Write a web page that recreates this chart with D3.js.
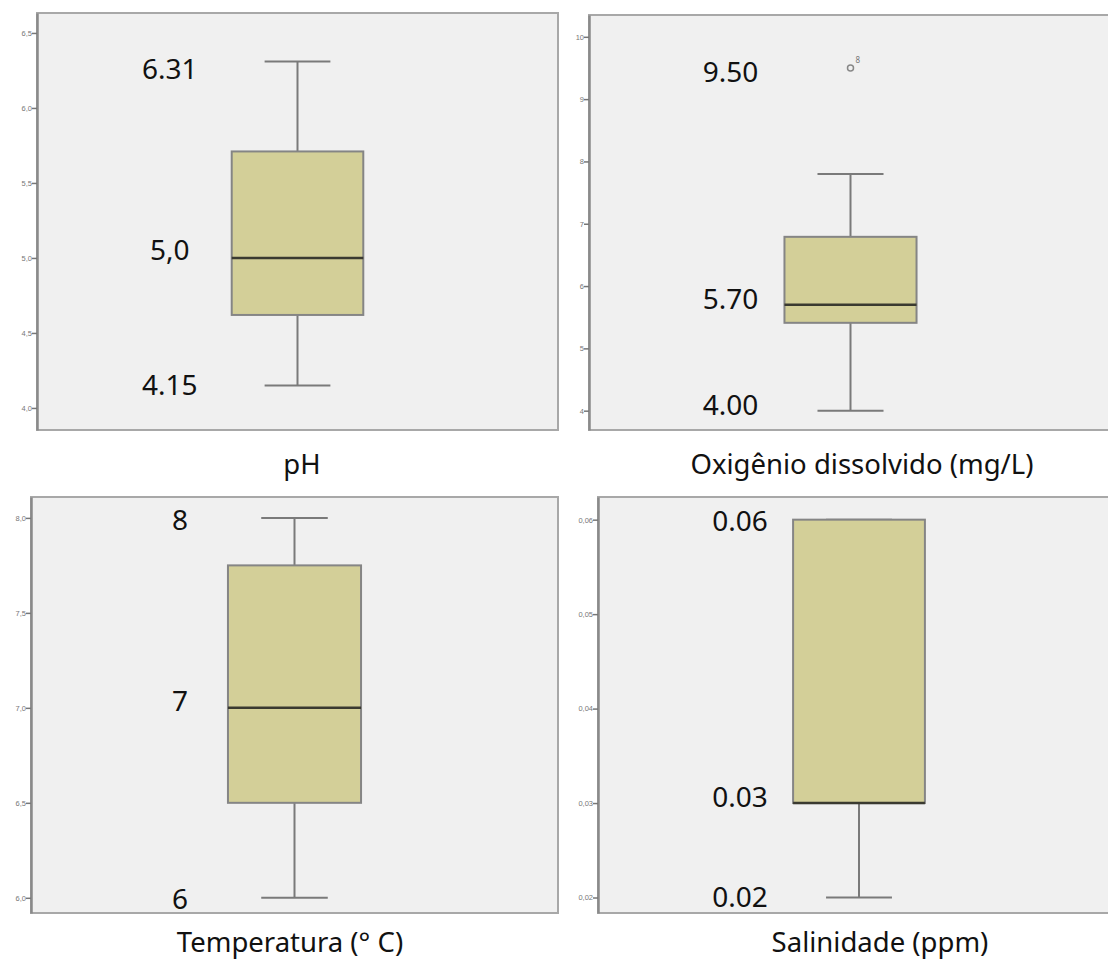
<!DOCTYPE html>
<html>
<head>
<meta charset="utf-8">
<script src="https://cdn.jsdelivr.net/npm/d3@7"></script>
<style>
  body { margin: 0; background: #fff; }
  svg { display: block; font-family: "Noto Sans", "Open Sans", sans-serif; }
  .tick text { fill: #777; font-size: 7.5px; }
  .tick line { stroke: #777; }
</style>
</head>
<body>
<div id="chart"></div>
<script>
// variables shown in the four box plots
var categories = ["pH", "Oxigênio dissolvido (mg/L)", "Temperatura (° C)", "Salinidade (ppm)"];

// five-number summaries
var whiskerLow  = [4.15, 4.0, 6.0, 0.02];
var quartile1   = [4.62, 5.41, 6.5, 0.03];
var medians     = [5.0, 5.7, 7.0, 0.03];
var quartile3   = [5.71, 6.79, 7.75, 0.06];
var whiskerHigh = [6.31, 7.8, 8.0, 0.06];

// outliers (value and case number)
var outlierValues = [[], [9.5], [], []];
var outlierIds    = [[], ["8"], [], []];

// y axis domains and ticks
var yDomains = [[3.853, 6.633], [3.69, 10.35], [5.92, 8.11], [0.01836, 0.0624]];
var tickValues = [
  [4.0, 4.5, 5.0, 5.5, 6.0, 6.5],
  [4, 5, 6, 7, 8, 9, 10],
  [6.0, 6.5, 7.0, 7.5, 8.0],
  [0.02, 0.03, 0.04, 0.05, 0.06]
];
var tickFormats = [".1f", "d", ".1f", ".2f"];

// big annotation labels written next to the boxes
var noteTexts  = [["6.31", "5,0", "4.15"], ["9.50", "5.70", "4.00"], ["8", "7", "6"], ["0.06", "0.03", "0.02"]];
var noteValues = [[6.31, 5.0, 4.15], [9.5, 5.7, 4.0], [8, 7, 6], [0.06, 0.03, 0.02]];

// panel frames on the page (noteDy nudges each label like in the original figure)
var panels = [
  {x0: 37,  x1: 558,  y0: 13,  y1: 430, titleX: 302, titleY: 474, noteDx: -62, noteDy: [8, -8, 0]},
  {x0: 589, x1: 1112, y0: 15,  y1: 430, titleX: 862, titleY: 474, noteDx: -54, noteDy: [4, -6, -5]},
  {x0: 31,  x1: 558,  y0: 497, y1: 913, titleX: 290, titleY: 952, noteDx: -48, noteDy: [2, -7, 1]},
  {x0: 598, x1: 1120, y0: 497, y1: 913, titleX: 880, titleY: 952, noteDx: -53, noteDy: [2, -6, 0]}
];

var svg = d3.select("#chart").append("svg")
  .attr("width", 1108)
  .attr("height", 960);

panels.forEach(function(p, i) {

  var g = svg.append("g");

  // frame of the plot area
  g.append("rect")
    .attr("x", p.x0)
    .attr("y", p.y0)
    .attr("width", p.x1 - p.x0)
    .attr("height", p.y1 - p.y0)
    .attr("fill", "#f0f0f0")
    .attr("stroke", "#a8a8a8")
    .attr("stroke-width", 2);

  var y = d3.scaleLinear()
    .domain(yDomains[i])
    .range([p.y1, p.y0]);

  // one band for the single box
  var x = d3.scaleBand()
    .domain([categories[i]])
    .range([p.x0, p.x1])
    .paddingInner(0)
    .paddingOuter(1.48);

  var fmt = d3.format(tickFormats[i]);
  var yAxis = d3.axisLeft(y)
    .tickValues(tickValues[i])
    .tickSize(5)
    .tickSizeOuter(0)
    .tickFormat(function(d) { return fmt(d).replace(".", ","); });

  var ax = g.append("g")
    .attr("transform", "translate(" + p.x0 + ",0)")
    .call(yAxis);
  ax.select(".domain").attr("stroke", "#8a8a8a").attr("stroke-width", 2.5);
  ax.selectAll(".tick line").attr("stroke-width", 1.5);
  ax.selectAll(".tick text").attr("x", -5);

  var left = x(categories[i]),
    bw = x.bandwidth(),
    cx = left + bw / 2;

  // whiskers
  g.append("line")
    .attr("x1", cx).attr("x2", cx)
    .attr("y1", y(whiskerHigh[i])).attr("y2", y(quartile3[i]))
    .attr("stroke", "#7a7a7a").attr("stroke-width", 2);
  g.append("line")
    .attr("x1", cx).attr("x2", cx)
    .attr("y1", y(quartile1[i])).attr("y2", y(whiskerLow[i]))
    .attr("stroke", "#7a7a7a").attr("stroke-width", 2);
  [whiskerHigh[i], whiskerLow[i]].forEach(function(v) {
    g.append("line")
      .attr("x1", cx - bw / 4).attr("x2", cx + bw / 4)
      .attr("y1", y(v)).attr("y2", y(v))
      .attr("stroke", "#7a7a7a").attr("stroke-width", 2);
  });

  // the box
  g.append("rect")
    .attr("x", left)
    .attr("y", y(quartile3[i]))
    .attr("width", bw)
    .attr("height", y(quartile1[i]) - y(quartile3[i]))
    .attr("fill", "#d3cf98")
    .attr("stroke", "#858585")
    .attr("stroke-width", 2);

  // median
  g.append("line")
    .attr("x1", left).attr("x2", left + bw)
    .attr("y1", y(medians[i])).attr("y2", y(medians[i]))
    .attr("stroke", "#3a3a30").attr("stroke-width", 2.5);

  // outliers
  outlierValues[i].forEach(function(v, k) {
    g.append("circle")
      .attr("cx", cx)
      .attr("cy", y(v))
      .attr("r", 3)
      .attr("fill", "none")
      .attr("stroke", "#888")
      .attr("stroke-width", 1.5);
    g.append("text")
      .attr("x", cx + 5)
      .attr("y", y(v) - 5)
      .attr("font-size", 8)
      .attr("fill", "#777")
      .text(outlierIds[i][k]);
  });

  // annotation labels
  noteTexts[i].forEach(function(t, k) {
    g.append("text")
      .attr("x", left + p.noteDx)
      .attr("y", y(noteValues[i][k]) + p.noteDy[k])
      .attr("dy", "0.35em")
      .attr("text-anchor", "middle")
      .attr("font-size", 28)
      .attr("fill", "#111")
      .text(t);
  });

  // variable name under the panel
  svg.append("text")
    .attr("x", p.titleX)
    .attr("y", p.titleY)
    .attr("text-anchor", "middle")
    .attr("font-size", 27.5)
    .attr("fill", "#111")
    .text(categories[i]);
});
</script>
</body>
</html>
